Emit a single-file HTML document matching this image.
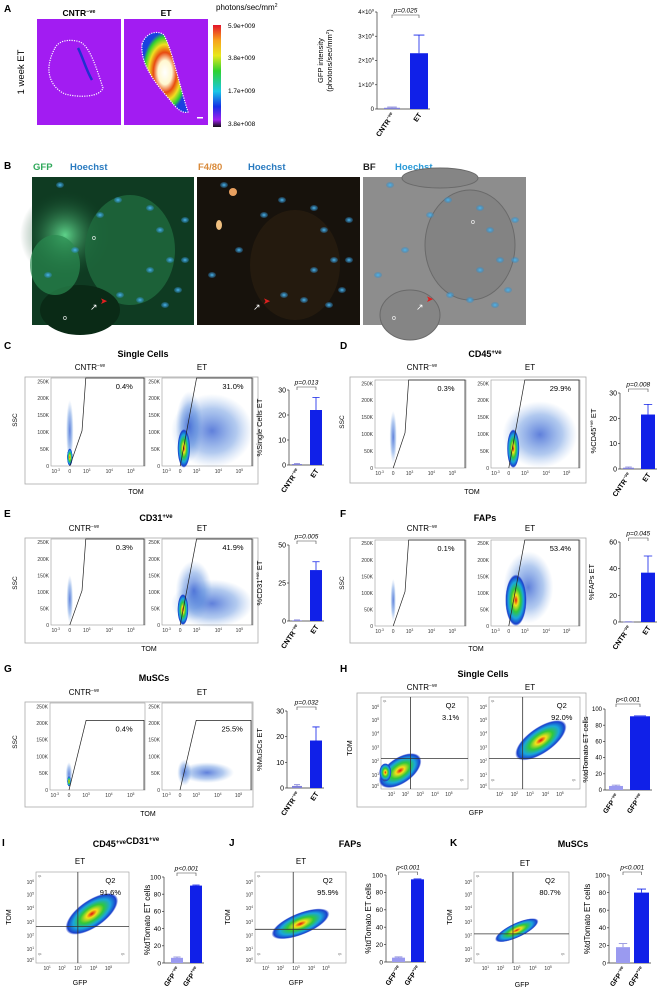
<!DOCTYPE html>
<html><head><meta charset="utf-8"><style>
html,body{margin:0;padding:0;background:#fff;}
svg{display:block;font-family:"Liberation Sans",sans-serif;}
.b{font-weight:bold;}
</style></head><body>
<svg id="fig" width="659" height="1001" viewBox="0 0 659 1001" xmlns="http://www.w3.org/2000/svg">
<defs>
<linearGradient id="cbar" x1="0" y1="0" x2="0" y2="1">
<stop offset="0" stop-color="#e3132b"/><stop offset="0.15" stop-color="#f7a21b"/><stop offset="0.3" stop-color="#e8e81c"/><stop offset="0.45" stop-color="#2fd22f"/><stop offset="0.65" stop-color="#19c8e6"/><stop offset="0.8" stop-color="#1530e6"/><stop offset="0.93" stop-color="#a020f0"/><stop offset="1" stop-color="#111"/>
</linearGradient>
<radialGradient id="heat"><stop offset="0" stop-color="#e01010"/><stop offset="0.2" stop-color="#f5e11a"/><stop offset="0.45" stop-color="#30c83a"/><stop offset="0.7" stop-color="#1aa6dc"/><stop offset="0.92" stop-color="#1a3fcc"/><stop offset="1" stop-color="#1a3fcc" stop-opacity="0"/></radialGradient>
<radialGradient id="cloud"><stop offset="0" stop-color="#2a55cf" stop-opacity="0.75"/><stop offset="0.6" stop-color="#3f7ad8" stop-opacity="0.4"/><stop offset="1" stop-color="#6f9ee0" stop-opacity="0"/></radialGradient>
<radialGradient id="etglow"><stop offset="0" stop-color="#fff"/><stop offset="0.3" stop-color="#fff8d0"/><stop offset="0.5" stop-color="#e84a10"/><stop offset="0.7" stop-color="#f0e020"/><stop offset="0.88" stop-color="#2fd22f"/><stop offset="1" stop-color="#1a40e0"/></radialGradient>
<radialGradient id="gfpglow"><stop offset="0" stop-color="#5ed38a"/><stop offset="1" stop-color="#0d3d22" stop-opacity="0"/></radialGradient>
<radialGradient id="nuc"><stop offset="0" stop-color="#4db8f0"/><stop offset="1" stop-color="#2a88c8" stop-opacity="0.3"/></radialGradient>
</defs>

<!-- Panel A -->
<text x="4" y="12" class="b" font-size="10">A</text>
<text x="79" y="16" class="b" font-size="8.5" text-anchor="middle">CNTR<tspan font-size="5.5" dy="-3">−ve</tspan></text>
<text x="166" y="16" class="b" font-size="8.5" text-anchor="middle">ET</text>
<text x="216" y="10" font-size="8">photons/sec/mm<tspan font-size="5" dy="-3">2</tspan></text>
<text x="24" y="72" font-size="9.5" text-anchor="middle" transform="rotate(-90 24 72)">1 week ET</text>
<g>
<rect x="37" y="19" width="84" height="106" fill="#a21cf2"/>
<path d="M55,48 C60,38 75,40 80,42 C90,46 97,70 103,88 C100,97 80,98 65,94 C52,88 42,72 55,48 Z" fill="none" stroke="#fff" stroke-width="1.2" stroke-dasharray="1.2 1.2"/>
<path d="M78,48 C82,55 86,70 92,80" stroke="#2030d0" stroke-width="2.5" fill="none"/>
</g>
<g>
<rect x="124" y="19" width="84" height="106" fill="#a21cf2"/>
<path d="M142,44 C146,32 158,30 164,35 C172,50 178,80 188,112 C182,114 176,108 170,100 C158,86 140,66 142,44 Z" fill="url(#etglow)" stroke="#fff" stroke-width="1.2" stroke-dasharray="1.2 1.2"/>
<rect x="197" y="117" width="6" height="1.5" fill="#fff"/>
</g>
<rect x="213" y="25" width="8" height="102" fill="url(#cbar)"/>
<g font-size="6.5">
<text x="228" y="28">5.9e+009</text><text x="228" y="60">3.8e+009</text><text x="228" y="93">1.7e+009</text><text x="228" y="126">3.8e+008</text>
</g>

<!-- Panel B -->
<text x="4" y="169" class="b" font-size="10">B</text>
<text x="33" y="170" class="b" font-size="9.5" fill="#2fa85a">GFP</text>
<text x="70" y="170" class="b" font-size="9.5" fill="#2a7bc0">Hoechst</text>
<text x="198" y="170" class="b" font-size="9.5" fill="#d98a3a">F4/80</text>
<text x="248" y="170" class="b" font-size="9.5" fill="#2a7bc0">Hoechst</text>
<text x="363" y="170" class="b" font-size="9.5" fill="#222">BF</text>
<text x="395" y="170" class="b" font-size="9.5" fill="#2a9ad8">Hoechst</text>
<g>
<rect x="32" y="177" width="162" height="148" fill="#0f3b22"/>
<ellipse cx="65" cy="235" rx="45" ry="45" fill="url(#gfpglow)"/>
<ellipse cx="130" cy="250" rx="45" ry="55" fill="#1f6b3e" opacity="0.8"/>
<ellipse cx="80" cy="310" rx="40" ry="25" fill="#0a2a16"/>
<ellipse cx="55" cy="265" rx="25" ry="30" fill="#2a8a50" opacity="0.7"/>
</g>
<g>
<rect x="197" y="177" width="163" height="148" fill="#17120c"/>
<ellipse cx="295" cy="265" rx="45" ry="55" fill="#241a0e"/>
<ellipse cx="233" cy="192" rx="4" ry="4" fill="#e8a060"/>
<ellipse cx="219" cy="225" rx="3" ry="5" fill="#f0c080"/>
</g>
<g>
<rect x="363" y="177" width="163" height="148" fill="#8d8d8d"/>
<ellipse cx="470" cy="245" rx="45" ry="55" fill="#838383" stroke="#6a6a6a"/>
<ellipse cx="410" cy="315" rx="30" ry="25" fill="#858585" stroke="#6a6a6a"/>
<ellipse cx="440" cy="178" rx="38" ry="10" fill="#858585" stroke="#6a6a6a"/>
</g>
<g id="nuclei"></g>
<g font-size="7">
<text x="92" y="240" fill="#fff">o</text><text x="33" y="320" fill="#fff" dx="30">o</text><text x="471" y="224" fill="#fff">o</text><text x="392" y="320" fill="#fff">o</text>
<text x="100" y="304" fill="#e02020" font-size="9">➤</text><text x="263" y="304" fill="#e02020" font-size="9">➤</text><text x="426" y="302" fill="#e02020" font-size="9">➤</text>
<text x="90" y="310" fill="#fff" font-size="9">↗</text><text x="253" y="310" fill="#fff" font-size="9">↗</text><text x="416" y="310" fill="#fff" font-size="9">↗</text>
</g>

<g class="b" font-size="10">
<text x="4" y="349">C</text><text x="340" y="349">D</text><text x="4" y="517">E</text><text x="340" y="517">F</text>
<text x="4" y="672">G</text><text x="340" y="672">H</text><text x="2" y="846">I</text><text x="229" y="846">J</text><text x="450" y="846">K</text>
</g>
<g class="b" font-size="9" text-anchor="middle">
<text x="143" y="357">Single Cells</text>
<text x="485" y="357">CD45<tspan font-size="6" dy="-3">+ve</tspan></text>
<text x="156" y="521">CD31<tspan font-size="6" dy="-3">+ve</tspan></text>
<text x="485" y="521">FAPs</text>
<text x="154" y="681">MuSCs</text>
<text x="483" y="677">Single Cells</text>
<text x="126" y="847">CD45<tspan font-size="6" dy="-3">+ve</tspan>CD31<tspan font-size="6" dy="-3">+ve</tspan></text>
<text x="350" y="847">FAPs</text>
<text x="573" y="847">MuSCs</text>
</g>
<g id="flows"></g>
<g id="bars"></g>
</svg>
<script>
// ---- bar chart data ----
const catsCtrl = ["CNTR<tspan font-size='4.5' dy='-3'>−ve</tspan>", "ET"];
const catsGfp = ["GFP<tspan font-size='4.5' dy='-3'>−ve</tspan>", "GFP<tspan font-size='4.5' dy='-3'>+ve</tspan>"];
const valsA = [0.05, 2.3];
const errsA = [0.03, 0.75];
const ticksA = [0, 1, 2, 3, 4];
const tickLblA = ["0", "1×10<tspan font-size='4' dy='-2.5'>9</tspan>", "2×10<tspan font-size='4' dy='-2.5'>9</tspan>", "3×10<tspan font-size='4' dy='-2.5'>9</tspan>", "4×10<tspan font-size='4' dy='-2.5'>9</tspan>"];
const valsC = [0.4, 22];
const errsC = [0.2, 5];
const ticksC = [0, 10, 20, 30];
const valsD = [0.5, 21.5];
const errsD = [0.3, 4];
const ticksD = [0, 10, 20, 30];
const valsE = [0.4, 33.5];
const errsE = [0.3, 5.5];
const ticksE = [0, 25, 50];
const valsF = [0.2, 37];
const errsF = [0.1, 12.5];
const ticksF = [0, 20, 40, 60];
const valsG = [0.8, 18.5];
const errsG = [0.5, 5.3];
const ticksG = [0, 10, 20, 30];
const valsH = [5, 91];
const errsH = [1, 0.5];
const valsI = [6, 90];
const errsI = [1, 0.7];
const valsJ = [5, 95];
const errsJ = [0.8, 0.5];
const valsK = [18, 80];
const errsK = [4, 4];
const ticksPct = [0, 20, 40, 60, 80, 100];
const pvals = ["p=0.025", "p=0.013", "p=0.008", "p=0.005", "p=0.045", "p=0.032", "p&lt;0.001", "p&lt;0.001", "p&lt;0.001", "p&lt;0.001"];

const NS = 'http://www.w3.org/2000/svg';
const svg = document.getElementById('fig');
const barsG = document.getElementById('bars');
const flowsG = document.getElementById('flows');
function mk(tag, attrs, parent) {
  const e = document.createElementNS(NS, tag);
  for (const k in attrs) e.setAttribute(k, attrs[k]);
  parent.appendChild(e);
  return e;
}
function tx(parent, x, y, s, attrs) {
  const e = mk('text', Object.assign({x: x, y: y}, attrs || {}), parent);
  e.innerHTML = s;
  return e;
}

function barChart(name, L, cats, vals, errs, ticks, tickLbl, ytitle, ptext, fs) {
  const g = mk('g', {}, barsG);
  
  
  const ymax = ticks[ticks.length - 1];
  const sy = v => L.y0 - (v / ymax) * (L.y0 - L.yt);
  const ax = mk('line', {x1: L.ax, y1: L.yt, x2: L.ax, y2: L.y0, stroke: '#333', 'stroke-width': 0.7}, g);
  
  
  ticks.forEach((t, i) => {
    const tk = mk('line', {x1: L.ax - 2, y1: sy(t), x2: L.ax, y2: sy(t), stroke: '#333', 'stroke-width': 0.7}, g);
    
    
    const tl = tx(g, L.ax - 3, sy(t) + fs * 0.35, tickLbl ? tickLbl[i] : String(t), {'font-size': fs, 'text-anchor': 'end'});
    
    
  });
  const xa = mk('line', {x1: L.ax, y1: L.y0, x2: L.bx[1] + L.bw[1] + 2, y2: L.y0, stroke: '#333', 'stroke-width': 0.7}, g);
  
  
  const cols = L.cols || ['#8080d8', '#1020e8'];
  vals.forEach((v, i) => {
    const top = sy(v);
    const r = mk('rect', {x: L.bx[i], y: top, width: L.bw[i], height: Math.max(0.6, L.y0 - top), fill: cols[i]}, g);
    
    
    const cx = L.bx[i] + L.bw[i] / 2;
    const et = sy(v + errs[i]);
    const el = mk('path', {d: `M${cx},${top}V${et}M${cx - L.bw[i] * 0.3},${et}H${cx + L.bw[i] * 0.3}`, stroke: i === 0 ? '#8080d8' : '#1020e8', 'stroke-width': 0.8, fill: 'none'}, g);
    
    
    const cl = tx(g, cx + 3, L.y0 + 6, cats[i], {'font-size': 7, 'font-weight': 'bold', 'text-anchor': 'end', transform: `rotate(-55 ${cx + 3} ${L.y0 + 6})`});
    
    
  });
  const c1 = L.bx[0] + L.bw[0] / 2, c2 = L.bx[1] + L.bw[1] / 2;
  const br = mk('path', {d: `M${c1},${L.by + 3}V${L.by}H${c2}V${L.by + 3}`, stroke: '#444', 'stroke-width': 0.6, fill: 'none'}, g);
  
  
  const pt = tx(g, (c1 + c2) / 2, L.by - 2.5, ptext, {'font-size': 6.5, 'font-style': 'italic', 'text-anchor': 'middle'});
  
  
  const ym = (L.y0 + L.yt) / 2;
  ytitle.forEach((s, i) => {
    const t = tx(g, L.tx + i * (fs + 3), ym, s, {'font-size': L.tfs || 7.5, 'text-anchor': 'middle', transform: `rotate(-90 ${L.tx + i * (fs + 3)} ${ym})`});
    
    
  });
}

barChart('gfp-intensity-chart', {ax: 377, y0: 109, yt: 12, bx: [384, 410], bw: [16, 18], by: 15, tx: 323}, catsCtrl, valsA, errsA, ticksA, tickLblA, ['GFP intensity', '(photons/sec/mm<tspan font-size="4.5" dy="-3">2</tspan><tspan dy="3">)</tspan>'], pvals[0], 6);
barChart('single-cells-bar-chart', {ax: 289, y0: 465, yt: 390, bx: [292, 310], bw: [10, 12], by: 387, tx: 262}, catsCtrl, valsC, errsC, ticksC, null, ['%Single Cells ET'], pvals[1], 7);
barChart('cd45-bar-chart', {ax: 620, y0: 469, yt: 393, bx: [623, 641], bw: [11, 14], by: 389, tx: 596}, catsCtrl, valsD, errsD, ticksD, null, ['%CD45<tspan font-size="4.5" dy="-3">+ve</tspan><tspan dy="3"> ET</tspan>'], pvals[2], 7);
barChart('cd31-bar-chart', {ax: 289, y0: 621, yt: 545, bx: [292, 310], bw: [10, 12], by: 541, tx: 262}, catsCtrl, valsE, errsE, ticksE, null, ['%CD31<tspan font-size="4.5" dy="-3">+ve</tspan><tspan dy="3"> ET</tspan>'], pvals[3], 7);
barChart('faps-bar-chart', {ax: 620, y0: 622, yt: 542, bx: [623, 641], bw: [11, 14], by: 538, tx: 594}, catsCtrl, valsF, errsF, ticksF, null, ['%FAPs ET'], pvals[4], 7);
barChart('muscs-bar-chart', {ax: 287, y0: 788, yt: 711, bx: [292, 310], bw: [10, 12], by: 707, tx: 262}, catsCtrl, valsG, errsG, ticksG, null, ['%MuSCs ET'], pvals[5], 7);
barChart('single-cells-tdtomato-chart', {ax: 605, y0: 790, yt: 709, bx: [609, 630], bw: [14, 20], by: 704, tx: 588, cols: ['#9a9af0', '#1020e8']}, catsGfp, valsH, errsH, ticksPct, null, ['%tdTomato ET cells'], pvals[6], 6);
barChart('cd45-cd31-tdtomato-chart', {ax: 164, y0: 963, yt: 877, bx: [171, 190], bw: [12, 12], by: 873, tx: 150, tfs: 8, cols: ['#9a9af0', '#1020e8']}, catsGfp, valsI, errsI, ticksPct, null, ['%tdTomato ET cells'], pvals[7], 6.5);
barChart('faps-tdtomato-chart', {ax: 386, y0: 962, yt: 875, bx: [392, 411], bw: [13, 13], by: 872, tx: 371, tfs: 8, cols: ['#9a9af0', '#1020e8']}, catsGfp, valsJ, errsJ, ticksPct, null, ['%tdTomato ET cells'], pvals[8], 6.5);
barChart('muscs-tdtomato-chart', {ax: 609, y0: 963, yt: 875, bx: [616, 634], bw: [14, 15], by: 872, tx: 590, tfs: 8, cols: ['#9a9af0', '#1020e8']}, catsGfp, valsK, errsK, ticksPct, null, ['%tdTomato ET cells'], pvals[9], 6.5);

// ---- flow cytometry plots (decorative density) ----
function frame(name, x, y, w, h) {
  const r = mk('rect', {x: x, y: y, width: w, height: h, fill: 'none', stroke: '#aaa', 'stroke-width': 0.8}, flowsG);
  
  
}
function label(name, x, y, s, fs, extra) {
  const t = tx(flowsG, x, y, s, Object.assign({'font-size': fs, 'text-anchor': 'middle'}, extra || {}));
  
  
}
function blob(g, cx, cy, rx, ry, rot, fill) {
  const e = mk('ellipse', {cx: cx, cy: cy, rx: rx, ry: ry, fill: fill, transform: `rotate(${rot} ${cx} ${cy})`}, g);
  
  
}
function sscPlot(name, p) {
  const g = mk('g', {}, flowsG);
  
  
  const {x, y, w, h} = p;
  const box = mk('rect', {x: x, y: y, width: w, height: h, fill: '#fff', stroke: '#999', 'stroke-width': 0.6}, g);
  
  
  (p.blobs || []).forEach(b => blob(g, x + b[0] * w, y + b[1] * h, b[2] * w, b[3] * h, b[4] || 0, b[5]));
  const yl = ['250K', '200K', '150K', '100K', '50K', '0'];
  yl.forEach((s, i) => {
    const yy = y + h * (0.04 + i * 0.192);
    const t = tx(g, x - 2, yy + 1.8, s, {'font-size': 5, 'text-anchor': 'end', fill: '#333'});
    
    
  });
  const xl = ['10<tspan font-size="3.2" dy="-2">-3</tspan>', '0', '10<tspan font-size="3.2" dy="-2">3</tspan>', '10<tspan font-size="3.2" dy="-2">4</tspan>', '10<tspan font-size="3.2" dy="-2">5</tspan>'];
  const xf = [0.05, 0.2, 0.38, 0.62, 0.85];
  xl.forEach((s, i) => {
    const t = tx(g, x + xf[i] * w, y + h + 7, s, {'font-size': 5, 'text-anchor': 'middle', fill: '#333'});
    
    
  });
  const gy = y + h * (p.gateTop || 0);
  const gx = p.gate === 'steep' ? `M${x + 0.2 * w},${y + h} L${x + 0.38 * w},${gy}` : `M${x + 0.2 * w},${y + h} L${x + 0.33 * w},${y + h * 0.6} L${x + 0.37 * w},${gy}`;
  const gate = mk('path', {d: `${gx} H${x + w - 1} V${y + h}`, fill: 'none', stroke: '#222', 'stroke-width': 0.7}, g);
  
  
  const t = tx(g, x + w * 0.78, y + h * (p.gateTop || 0) + 11, p.pct, {'font-size': 7.5, 'text-anchor': 'middle'});
  
  
}
function quadPlot(name, p) {
  const g = mk('g', {}, flowsG);
  
  
  const {x, y, w, h} = p;
  const box = mk('rect', {x: x, y: y, width: w, height: h, fill: '#fff', stroke: '#999', 'stroke-width': 0.6}, g);
  
  
  (p.blobs || []).forEach(b => blob(g, x + b[0] * w, y + b[1] * h, b[2] * w, b[3] * h, b[4] || 0, b[5]));
  const q = mk('path', {d: `M${x + p.vx * w},${y}V${y + h}M${x},${y + p.hy * h}H${x + w}`, stroke: '#333', 'stroke-width': 0.8}, g);
  
  
  const yf = [0.97, 0.85, 0.7, 0.55, 0.4, 0.25, 0.11];
  yf.forEach((f, i) => {
    const t = tx(g, x - 2, y + f * h + 1.8, '10<tspan font-size="3.2" dy="-2">' + i + '</tspan>', {'font-size': 5, 'text-anchor': 'end', fill: '#333'});
    
    
  });
  const xf = [0.12, 0.28, 0.45, 0.62, 0.78];
  xf.forEach((f, i) => {
    const t = tx(g, x + f * w, y + h + 7, '10<tspan font-size="3.2" dy="-2">' + (i + 1) + '</tspan>', {'font-size': 5, 'text-anchor': 'middle', fill: '#333'});
    
    
  });
  const q2 = tx(g, x + w * 0.8, y + 11, 'Q2', {'font-size': 7.5, 'text-anchor': 'middle'});
  
  
  const pc = tx(g, x + w * 0.8, y + 23, p.pct, {'font-size': 7.5, 'text-anchor': 'middle'});
  
  
  const small = [['Q1', 2, 5], ['Q4', 2, h - 8], ['Q3', w - 8, h - 8]];
  small.forEach(s => {
    const t = tx(g, x + s[1], y + s[2], s[0], {'font-size': 2.5, fill: '#555'});
    
    
  });
}
const H = 'url(#heat)', C = 'url(#cloud)';
// C
frame('single-cells-flow-frame', 25, 377, 233, 107);
label('cntr-label-c', 90, 370, 'CNTR<tspan font-size="5" dy="-3">−ve</tspan>', 8);
label('et-label-c', 202, 370, 'ET', 8);
sscPlot('single-cells-cntr-plot', {x: 51, y: 378, w: 94, h: 88, pct: '0.4%', blobs: [[0.2, 0.6, 0.04, 0.35, 0, C], [0.2, 0.9, 0.03, 0.1, 0, H]]});
sscPlot('single-cells-et-plot', {x: 162, y: 378, w: 91, h: 88, pct: '31.0%', gate: 'steep', blobs: [[0.55, 0.6, 0.45, 0.42, 0, C], [0.3, 0.55, 0.15, 0.4, 0, C], [0.24, 0.8, 0.07, 0.22, 0, H]]});
label('ssc-title-c', 17, 420, 'SSC', 6.5, {transform: 'rotate(-90 17 420)'});
label('tom-title-c', 136, 494, 'TOM', 7);
// D
frame('cd45-flow-frame', 350, 377, 236, 106);
label('cntr-label-d', 422, 370, 'CNTR<tspan font-size="5" dy="-3">−ve</tspan>', 8);
label('et-label-d', 530, 370, 'ET', 8);
sscPlot('cd45-cntr-plot', {x: 375, y: 380, w: 91, h: 88, pct: '0.3%', blobs: [[0.2, 0.65, 0.04, 0.3, 0, C]]});
sscPlot('cd45-et-plot', {x: 491, y: 380, w: 89, h: 88, pct: '29.9%', gate: 'steep', blobs: [[0.55, 0.62, 0.42, 0.38, 0, C], [0.25, 0.78, 0.07, 0.22, 0, H]]});
label('ssc-title-d', 344, 422, 'SSC', 6.5, {transform: 'rotate(-90 344 422)'});
label('tom-title-d', 472, 494, 'TOM', 7);
// E
frame('cd31-flow-frame', 25, 538, 233, 105);
label('cntr-label-e', 84, 531, 'CNTR<tspan font-size="5" dy="-3">−ve</tspan>', 8);
label('et-label-e', 202, 531, 'ET', 8);
sscPlot('cd31-cntr-plot', {x: 51, y: 539, w: 94, h: 86, pct: '0.3%', blobs: [[0.2, 0.7, 0.035, 0.28, 0, C]]});
sscPlot('cd31-et-plot', {x: 162, y: 539, w: 91, h: 86, pct: '41.9%', gate: 'steep', blobs: [[0.55, 0.75, 0.45, 0.28, 0, C], [0.35, 0.6, 0.2, 0.35, 0, C], [0.23, 0.82, 0.06, 0.18, 0, H]]});
label('ssc-title-e', 17, 583, 'SSC', 6.5, {transform: 'rotate(-90 17 583)'});
label('tom-title-e', 149, 651, 'TOM', 7);
// F
frame('faps-flow-frame', 350, 538, 236, 105);
label('cntr-label-f', 422, 531, 'CNTR<tspan font-size="5" dy="-3">−ve</tspan>', 8);
label('et-label-f', 530, 531, 'ET', 8);
sscPlot('faps-cntr-plot', {x: 375, y: 540, w: 91, h: 86, pct: '0.1%', blobs: [[0.2, 0.7, 0.03, 0.25, 0, C]]});
sscPlot('faps-et-plot', {x: 491, y: 540, w: 89, h: 86, pct: '53.4%', gate: 'steep', blobs: [[0.42, 0.55, 0.28, 0.42, 0, C], [0.28, 0.7, 0.12, 0.3, 0, H]]});
label('ssc-title-f', 344, 583, 'SSC', 6.5, {transform: 'rotate(-90 344 583)'});
label('tom-title-f', 476, 651, 'TOM', 7);
// G
frame('muscs-flow-frame', 25, 702, 228, 105);
label('cntr-label-g', 84, 695, 'CNTR<tspan font-size="5" dy="-3">−ve</tspan>', 8);
label('et-label-g', 202, 695, 'ET', 8);
sscPlot('muscs-cntr-plot', {x: 50, y: 703, w: 95, h: 87, pct: '0.4%', gate: 'steep', gateTop: 0.2, blobs: [[0.2, 0.82, 0.035, 0.14, 0, C], [0.2, 0.9, 0.02, 0.06, 0, H]]});
sscPlot('muscs-et-plot', {x: 162, y: 703, w: 90, h: 87, pct: '25.5%', gate: 'steep', gateTop: 0.2, blobs: [[0.25, 0.8, 0.08, 0.15, 0, C], [0.5, 0.8, 0.3, 0.12, 0, C]]});
label('ssc-title-g', 17, 742, 'SSC', 6.5, {transform: 'rotate(-90 17 742)'});
label('tom-title-g', 148, 816, 'TOM', 7);
// H
frame('single-cells-gfp-frame', 357, 693, 229, 114);
label('cntr-label-h', 422, 690, 'CNTR<tspan font-size="5" dy="-3">−ve</tspan>', 8);
label('et-label-h', 530, 690, 'ET', 8);
quadPlot('single-cells-gfp-cntr-plot', {x: 381, y: 697, w: 87, h: 92, vx: 0.34, hy: 0.67, pct: '3.1%', blobs: [[0.22, 0.8, 0.28, 0.14, -35, H], [0.05, 0.82, 0.07, 0.1, 0, H]]});
quadPlot('single-cells-gfp-et-plot', {x: 489, y: 697, w: 91, h: 92, vx: 0.37, hy: 0.67, pct: '92.0%', blobs: [[0.57, 0.47, 0.33, 0.14, -35, H]]});
label('tom-title-h', 352, 748, 'TOM', 7, {transform: 'rotate(-90 352 748)'});
label('gfp-title-h', 476, 815, 'GFP', 7);
// I
label('et-label-i', 80, 864, 'ET', 8);
quadPlot('cd45-cd31-gfp-plot', {x: 36, y: 872, w: 93, h: 91, vx: 0.45, hy: 0.6, pct: '91.6%', blobs: [[0.6, 0.46, 0.33, 0.15, -35, H]]});
label('tom-title-i', 11, 917, 'TOM', 7, {transform: 'rotate(-90 11 917)'});
label('gfp-title-i', 80, 985, 'GFP', 7);
// J
label('et-label-j', 301, 864, 'ET', 8);
quadPlot('faps-gfp-plot', {x: 255, y: 872, w: 91, h: 91, vx: 0.42, hy: 0.63, pct: '95.9%', blobs: [[0.5, 0.57, 0.34, 0.12, -22, H]]});
label('tom-title-j', 230, 917, 'TOM', 7, {transform: 'rotate(-90 230 917)'});
label('gfp-title-j', 296, 985, 'GFP', 7);
// K
label('et-label-k', 525, 866, 'ET', 8);
quadPlot('muscs-gfp-plot', {x: 474, y: 872, w: 95, h: 91, vx: 0.41, hy: 0.68, pct: '80.7%', blobs: [[0.45, 0.64, 0.25, 0.08, -25, H]]});
label('tom-title-k', 452, 917, 'TOM', 7, {transform: 'rotate(-90 452 917)'});
label('gfp-title-k', 522, 987, 'GFP', 7);

// nuclei in micrographs (decorative)
const nucG = document.getElementById('nuclei');
const nucPos = [[60,185],[118,200],[150,208],[160,230],[170,260],[178,290],[140,300],[120,295],[75,250],[48,275],[185,220],[150,270],[100,215],[185,260],[165,305]];
[0, 164, 330].forEach(off => nucPos.forEach(p => {
  const e = mk('ellipse', {cx: p[0] + off, cy: p[1], rx: 4, ry: 3, fill: 'url(#nuc)'}, nucG);
  
  
}));
</script>
</body></html>
